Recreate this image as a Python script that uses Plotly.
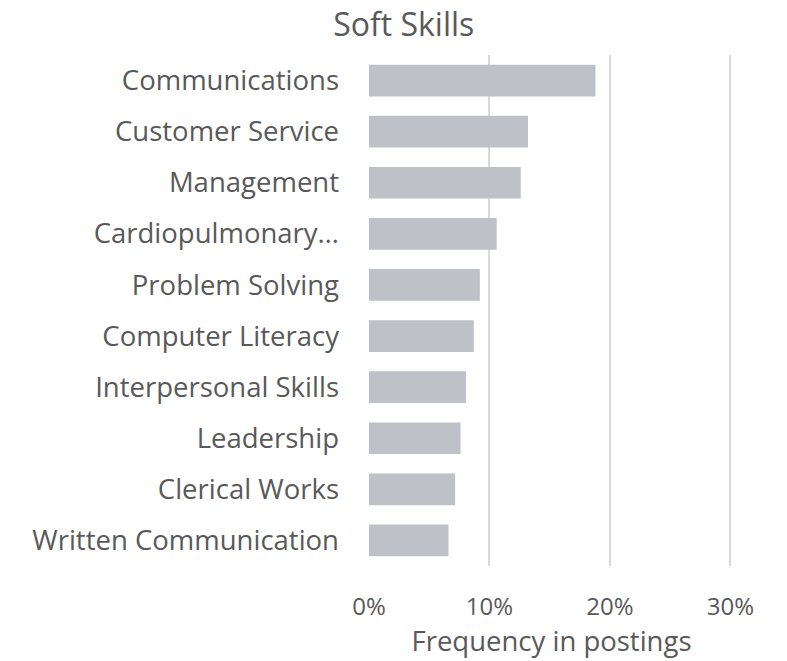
import plotly.graph_objects as go

# Soft skills and share of postings that mention them
skills = [
    "Communications",
    "Customer Service",
    "Management",
    "Cardiopulmonary…",
    "Problem Solving",
    "Computer Literacy",
    "Interpersonal Skills",
    "Leadership",
    "Clerical Works",
    "Written Communication",
]
frequency = [0.188, 0.132, 0.126, 0.106, 0.092, 0.087, 0.0805, 0.076, 0.0715, 0.066]
x_ticks = [0, 0.1, 0.2, 0.3]
x_tick_labels = ["0%", "10%", "20%", "30%"]

FONT = "Open Sans"
TEXT = "#595959"

fig = go.Figure(go.Bar(
    x=frequency,
    y=skills,
    orientation="h",
    marker=dict(color="#bfc1c8", line=dict(width=0)),
    width=0.62,
))

# page body adds an 8px margin, so the figure is a bit smaller than the window
fig.update_layout(
    width=779,
    height=653,
    margin=dict(l=361, r=53, t=47, b=87),
    paper_bgcolor="white",
    plot_bgcolor="white",
    font=dict(family=FONT, color=TEXT),
    title=dict(
        text="Soft Skills",
        x=0.508, xanchor="center",
        y=0.974, yanchor="middle",
        font=dict(size=32, color=TEXT),
    ),
    showlegend=False,
)

fig.update_xaxes(
    range=[0, 0.303],
    tickvals=x_ticks,
    ticktext=x_tick_labels,
    showgrid=True,
    gridcolor="#d9d9d9",
    gridwidth=1.5,
    zeroline=False,
    showline=False,
    ticks="",
    ticklabelstandoff=24,
    tickfont=dict(size=24, color=TEXT),
    title=dict(text="Frequency in postings", font=dict(size=27.5, color=TEXT), standoff=8),
)

fig.update_yaxes(
    categoryorder="array",
    categoryarray=skills[::-1],
    autorange=False,
    range=[-0.5, len(skills) - 0.5],
    showgrid=False,
    showline=False,
    ticks="",
    ticklabelstandoff=29,
    tickfont=dict(size=27.5, color=TEXT),
)

fig.write_html("out.html")
